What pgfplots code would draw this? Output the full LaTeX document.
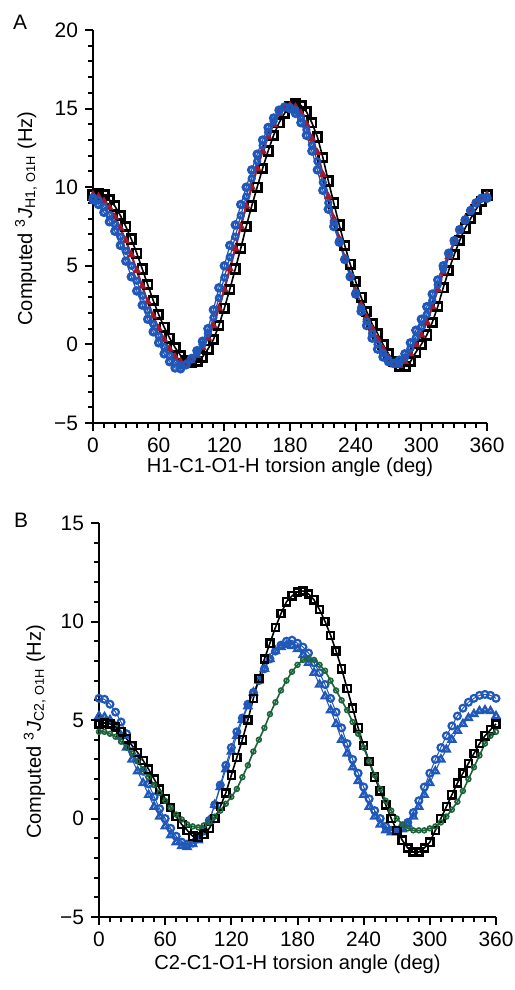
\documentclass[border=0pt]{standalone}
\usepackage{pgfplots}
\pgfplotsset{compat=1.18}
\usepackage{pgfplotstable}
\usepackage{fontspec}
\setmainfont{Liberation Sans}
\definecolor{jblue}{RGB}{32,88,185}
\definecolor{jred}{RGB}{165,25,45}
\definecolor{jgreen}{RGB}{28,100,58}

% t: torsion angle, k: black squares, r: red, b1/b2: blue series
\pgfplotstableread{
t k r b1 b2
0 9.5 9.5 9.2 9.35
5 9.6 9.4 8.9 9.15
10 9.5 9.1 8.4 8.75
15 9.2 8.7 7.8 8.25
20 8.8 8.1 7.2 7.65
25 8.2 7.4 6.3 6.85
30 7.5 6.6 5.3 5.95
35 6.7 5.7 4.3 5.0
40 5.8 4.7 3.4 4.05
45 4.8 3.7 2.5 3.1
50 3.8 2.7 1.6 2.15
55 2.8 1.8 0.8 1.3
60 1.9 1.0 0.1 0.55
65 1.1 0.3 -0.6 -0.15
70 0.4 -0.3 -1.1 -0.7
75 -0.2 -0.8 -1.5 -1.15
80 -0.7 -1.1 -1.55 -1.35
85 -1.0 -1.2 -1.3 -1.25
90 -1.15 -1.05 -0.9 -0.95
95 -1.1 -0.7 -0.4 -0.55
100 -0.8 -0.2 0.2 0.0
105 -0.3 0.4 1.0 0.7
110 0.3 1.2 2.2 1.7
115 1.2 2.3 3.6 2.95
120 2.3 3.5 5.0 4.25
125 3.5 4.8 6.3 5.55
130 4.8 6.1 7.6 6.85
135 6.1 7.5 8.9 8.2
140 7.5 8.8 10.0 9.4
145 8.8 10.0 11.1 10.55
150 10.0 11.2 12.1 11.65
155 11.2 12.3 13.0 12.65
160 12.3 13.2 13.8 13.5
165 13.3 14.0 14.4 14.2
170 14.1 14.7 14.9 14.8
175 14.7 15.1 15.1 15.1
180 15.1 15.2 15.0 15.1
185 15.3 15.1 14.7 14.9
190 15.2 14.7 14.1 14.4
195 14.8 14.0 13.3 13.65
200 14.1 13.1 12.3 12.7
205 13.2 12.2 11.1 11.65
210 11.9 10.8 9.8 10.3
215 10.4 9.4 8.6 9.0
220 9.0 8.0 7.5 7.75
225 7.6 6.7 6.5 6.6
230 6.3 5.5 5.4 5.45
235 5.1 4.4 4.3 4.35
240 4.0 3.4 3.2 3.3
245 3.0 2.5 2.1 2.3
250 2.1 1.7 1.2 1.45
255 1.3 1.0 0.4 0.7
260 0.7 0.35 -0.3 0.0
265 0.0 -0.3 -0.8 -0.55
270 -0.6 -0.85 -1.1 -0.97
275 -1.1 -1.3 -1.2 -1.25
280 -1.4 -1.35 -1.0 -1.2
285 -1.4 -1.1 -0.6 -0.85
290 -1.1 -0.6 0.1 -0.25
295 -0.5 0.0 0.9 0.45
300 0.0 0.6 1.6 1.1
305 0.6 1.4 2.4 1.9
310 1.4 2.4 3.2 2.8
315 2.4 3.5 4.1 3.8
320 3.6 4.6 5.0 4.8
325 4.7 5.6 5.8 5.7
330 5.7 6.5 6.6 6.55
335 6.6 7.3 7.3 7.3
340 7.4 8.0 7.9 7.95
345 8.0 8.6 8.5 8.55
350 8.6 9.0 9.0 9.0
355 9.1 9.3 9.3 9.3
360 9.5 9.5 9.3 9.4
}\dataA

% t: torsion angle, k: black squares, c: blue circles, tr: blue triangles, g: green
\pgfplotstableread{
t k c tr g
0 4.8 6.1 5.2 4.4
5 4.85 6.05 5.15 4.4
10 4.8 5.8 5.0 4.3
15 4.65 5.4 4.65 4.15
20 4.4 4.9 4.2 3.9
25 4.05 4.3 3.6 3.6
30 3.7 3.7 3.0 3.3
35 3.35 3.05 2.4 2.9
40 2.95 2.4 1.8 2.5
45 2.5 1.75 1.2 2.1
50 2.0 1.1 0.6 1.7
55 1.5 0.5 0.1 1.3
60 1.0 0.0 -0.4 0.9
65 0.55 -0.5 -0.85 0.55
70 0.1 -0.9 -1.2 0.2
75 -0.3 -1.2 -1.4 -0.05
80 -0.6 -1.3 -1.45 -0.3
85 -0.9 -1.25 -1.3 -0.4
90 -0.95 -1.0 -1.1 -0.45
95 -0.8 -0.6 -0.7 -0.35
100 -0.5 -0.1 -0.1 -0.2
105 0.0 0.7 0.7 0.1
110 0.6 1.7 1.6 0.4
115 1.3 2.7 2.5 0.75
120 2.2 3.6 3.4 1.1
125 3.1 4.4 4.2 1.5
130 4.0 5.1 5.0 2.1
135 5.0 5.8 5.7 2.7
140 6.1 6.4 6.4 3.4
145 7.1 7.0 7.0 4.0
150 8.1 7.6 7.6 4.6
155 8.9 8.1 8.1 5.3
160 9.7 8.5 8.5 5.9
165 10.4 8.8 8.7 6.5
170 11.0 9.0 8.8 7.0
175 11.3 9.05 8.75 7.45
180 11.5 8.9 8.6 7.8
185 11.55 8.7 8.3 8.05
190 11.4 8.4 7.9 8.1
195 11.1 7.9 7.4 8.05
200 10.6 7.4 6.8 7.8
205 10.0 6.8 6.2 7.5
210 9.3 6.1 5.5 7.0
215 8.5 5.4 4.8 6.5
220 7.6 4.6 4.0 6.0
225 6.6 3.8 3.3 5.5
230 5.6 3.0 2.6 4.9
235 4.6 2.3 1.9 4.3
240 3.7 1.6 1.2 3.6
245 2.9 1.0 0.6 2.9
250 2.1 0.4 0.1 2.2
255 1.4 0.0 -0.3 1.5
260 0.7 -0.4 -0.6 0.9
265 0.0 -0.6 -0.7 0.4
270 -0.6 -0.6 -0.7 0.0
275 -1.1 -0.45 -0.55 -0.3
280 -1.5 -0.2 -0.3 -0.5
285 -1.7 0.3 0.1 -0.6
290 -1.7 0.9 0.6 -0.6
295 -1.5 1.6 1.2 -0.6
300 -1.2 2.3 1.8 -0.5
305 -0.6 3.0 2.4 -0.4
310 0.0 3.6 3.0 -0.2
315 0.6 4.2 3.5 0.1
320 1.2 4.7 4.0 0.45
325 1.8 5.2 4.45 0.85
330 2.3 5.6 4.8 1.4
335 2.8 5.9 5.1 2.0
340 3.3 6.1 5.3 2.6
345 3.8 6.25 5.45 3.2
350 4.2 6.3 5.5 3.8
355 4.5 6.25 5.45 4.2
360 4.8 6.1 5.2 4.4
}\dataB

\pgfplotsset{panel/.style={
  scale only axis, width=197bp, height=196.5bp,
  xmin=0, xmax=360, xtick={0,60,...,360}, minor x tick num=5, minor y tick num=4,
  axis lines*=left, xtick pos=lower, ytick pos=left,
  axis line style={line width=1.3bp},
  tick align=outside, major tick length=4bp, minor tick length=2.5bp,
  every tick/.style={line width=1bp, black},
  tick label style={font=\fontsize{10.5}{11}\selectfont},
  label style={font=\fontsize{10.1}{11}\selectfont},
  /pgf/number format/assume math mode=true,
  xlabel style={at={(axis description cs:0.5,-0.112)}, anchor=center},
  ylabel style={anchor=center},
  clip=false,
}}

\begin{document}
\begin{tikzpicture}
\useasboundingbox (0,0) rectangle (257.5bp,-495bp);
\node[anchor=center, font=\fontsize{10.5}{11}\selectfont] at (10bp,-11bp) {A};
\node[anchor=center, font=\fontsize{10.5}{11}\selectfont] at (10.5bp,-260bp) {B};

\begin{axis}[panel, at={(46.5bp,-211.5bp)}, anchor=south west,
  ymin=-5, ymax=20, ytick={-5,0,5,10,15,20}, yticklabels={−5,0,5,10,15,20},
  xlabel={H1-C1-O1-H torsion angle (deg)},
  ylabel={Computed \textsuperscript{3}\textit{J}\textsubscript{H1, {\fontsize{6.4}{7}\selectfont O1H}} (Hz)},
  ylabel style={at={(axis description cs:-0.17,0.52)}}]
\addplot[black, line width=0.8bp, mark=square, mark size=2.1bp, mark options={line width=1.4bp, fill=white}] table[x=t, y=k]{\dataA};
\addplot[jred, line width=1.1bp, mark=triangle*, mark size=1.4bp] table[x=t, y=r]{\dataA};
\addplot[jblue, line width=0.6bp, mark=o, mark size=1.6bp, mark options={line width=1.5bp, fill=white}] table[x=t, y=b1]{\dataA};
\addplot[jblue, line width=0.6bp, mark=o, mark size=1.4bp, mark options={line width=1.3bp, fill=white}] table[x=t, y=b2]{\dataA};
\end{axis}

\begin{axis}[panel, at={(49.5bp,-458.5bp)}, anchor=south west, width=198.5bp, height=197bp,
  ymin=-5, ymax=15, ytick={-5,0,5,10,15}, yticklabels={−5,0,5,10,15},
  xlabel={C2-C1-O1-H torsion angle (deg)},
  xlabel style={at={(axis description cs:0.5,-0.12)}},
  ylabel={Computed \textsuperscript{3}\textit{J}\textsubscript{C2, {\fontsize{6.4}{7}\selectfont O1H}} (Hz)},
  ylabel style={at={(axis description cs:-0.162,0.47)}}]
\addplot[jblue, line width=0.5bp, mark=triangle, mark size=2bp, mark options={line width=1.1bp, fill=white}] table[x=t, y=tr]{\dataB};
\addplot[jblue, line width=0.5bp, mark=o, mark size=1.7bp, mark options={line width=1.1bp, fill=white}] table[x=t, y=c]{\dataB};
\addplot[black, line width=0.8bp, mark=square, mark size=1.8bp, mark options={line width=1.2bp, fill=white}] table[x=t, y=k]{\dataB};
\addplot[jgreen, line width=0.8bp, mark=o, mark size=1.2bp, mark options={line width=0.8bp, fill=white}] table[x=t, y=g]{\dataB};
\end{axis}
\end{tikzpicture}
\end{document}
